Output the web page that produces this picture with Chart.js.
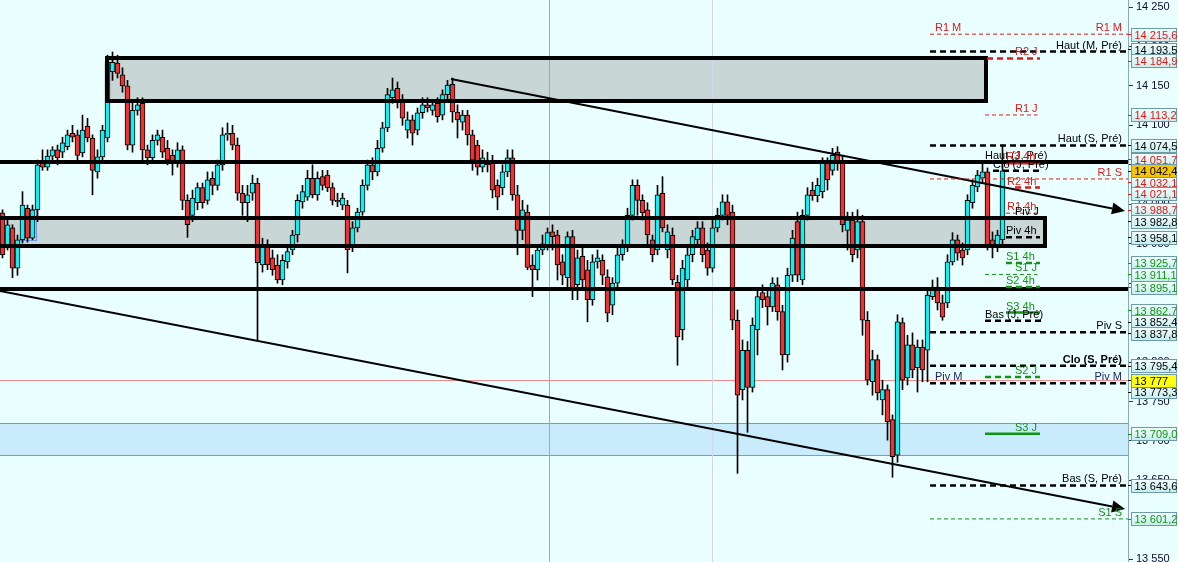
<!DOCTYPE html>
<html>
<head>
<meta charset="utf-8">
<script src="https://cdn.jsdelivr.net/npm/chart.js@4.4.1/dist/chart.umd.min.js"></script>
<style>
html,body{margin:0;padding:0;background:#eaffff;overflow:hidden}
canvas{display:block}
</style>
</head>
<body>
<canvas id="myChart" width="1178" height="562"></canvas>
<script>
// candles (oldest first)
const opens = [
13989,13948,13970,13919,13955,13995,13957,13993,14052,14047,
14061,14069,14066,14073,14090,14088,14065,14099,14084,14041,
14060,14084,14168,14179,14164,14150,14075,14119,14128,14069,
14059,14081,14085,14071,14062,14052,14069,14005,13986,14002,
14021,14005,14033,14024,14050,14088,14090,14075,14014,14002,
14014,14027,13923,13948,13932,13923,13904,13927,13942,13961,
14003,14009,14033,14012,14035,14037,14021,14005,13999,13999,
13945,13970,13990,14024,14050,14041,14071,14097,14135,14147,
14132,14094,14107,14094,14116,14126,14119,14128,14113,14139,
14152,14117,14104,14113,14088,14075,14047,14056,14054,14024,
14021,14041,14059,14012,13967,13990,13923,13917,13942,13948,
13965,13961,13927,13907,13959,13898,13934,13917,13879,13927,
13929,13908,13872,13900,13936,13946,13986,14024,14005,13993,
13955,13942,14014,13942,13961,13901,13841,13904,13936,13955,
13970,13942,13919,13970,13986,14003,13990,13853,13765,13815,
13768,13841,13888,13883,13870,13898,13864,13809,13910,13978,
13904,13986,14018,14011,14016,14052,14043,14066,14052,13967,
13980,13942,13978,13853,13775,13803,13752,13765,13727,13682,
13850,13780,13822,13793,13819,13815,13883,13895,13875,13875,
13927,13955,13942,13942,14002,14022,14033,14041,13955,13945,
13955];
const highs = [
13993,13980,13974,13961,14016,13999,13999,14056,14069,14069,
14073,14075,14085,14094,14100,14094,14113,14109,14088,14069,
14100,14189,14193,14189,14173,14157,14128,14135,14135,14075,
14088,14094,14094,14081,14069,14078,14074,14012,14018,14027,
14027,14041,14041,14056,14097,14103,14100,14084,14024,14024,
14037,14033,13957,13955,13942,13936,13936,13945,13967,14012,
14024,14043,14050,14041,14043,14043,14027,14014,14014,14005,
13978,13995,14031,14056,14059,14081,14104,14147,14160,14155,
14139,14117,14113,14122,14135,14135,14132,14135,14145,14157,
14160,14126,14119,14119,14094,14081,14069,14066,14062,14031,
14050,14069,14069,14024,14005,13999,13936,13948,13961,13970,
13974,13967,13936,13965,13967,13942,13945,13929,13936,13942,
13936,13917,13907,13945,13955,13995,14031,14031,14012,14002,
13961,14024,14035,13974,13970,13910,13929,13948,13967,13978,
13978,13951,13980,13995,14012,14012,13999,13866,13828,13826,
13856,13891,13898,13891,13907,13907,13872,13919,13967,13990,
13993,14021,14028,14033,14059,14059,14071,14073,14062,13990,
13990,13993,13986,13864,13815,13809,13777,13771,13733,13860,
13856,13834,13837,13828,13828,13894,13904,13907,13885,13936,
13964,13961,13951,14012,14031,14043,14054,14046,13965,13967,
14075];
const lows = [
13932,13942,13907,13910,13951,13952,13955,13978,14043,14043,
14056,14050,14059,14069,14079,14052,14060,14079,14012,14033,
14056,14079,14157,14160,14142,14069,14066,14113,14056,14050,
14052,14075,14059,14050,14037,14047,13993,13958,13978,13993,
13995,14000,14012,14018,14043,14081,14069,14005,13986,13978,
14005,13828,13914,13917,13910,13900,13898,13919,13936,13952,
13995,14005,14008,14005,14018,14016,13999,13997,13993,13913,
13940,13965,13986,14018,14031,14036,14066,14092,14128,14122,
14100,14084,14075,14088,14109,14117,14113,14104,14107,14132,
14104,14084,14094,14075,14043,14037,14041,14041,14008,13993,
14012,14035,14005,13936,13955,13917,13883,13904,13936,13942,
13942,13904,13898,13891,13879,13879,13891,13851,13872,13919,
13898,13851,13860,13891,13929,13940,13980,13986,13980,13948,
13927,13936,13965,13932,13898,13796,13828,13891,13927,13948,
13927,13910,13914,13965,13980,13974,13841,13659,13752,13711,
13762,13809,13869,13847,13864,13853,13790,13800,13902,13902,
13898,13980,14005,14003,14008,14018,14037,14043,13965,13942,
13927,13932,13834,13771,13758,13752,13733,13701,13654,13673,
13765,13771,13780,13762,13775,13775,13879,13866,13853,13869,
13923,13929,13923,13936,13995,14016,14028,13942,13932,13940,
13948];
const closes = [
13936,13974,13919,13955,13999,13957,13993,14050,14047,14061,
14069,14059,14078,14088,14085,14062,14094,14084,14043,14060,
14094,14180,14180,14166,14150,14075,14119,14126,14069,14059,
14081,14088,14066,14056,14052,14069,14005,13974,14008,14021,
14002,14031,14024,14050,14088,14090,14075,14014,14002,14012,
14027,13926,13948,13923,13917,13904,13929,13940,13961,14005,
14016,14033,14012,14033,14024,14021,14005,14003,14008,13942,
13970,13990,14024,14050,14041,14071,14097,14139,14145,14132,
14109,14107,14090,14116,14126,14122,14126,14111,14139,14151,
14117,14107,14113,14088,14056,14047,14059,14050,14018,14009,
14041,14059,14012,13967,13993,13920,13917,13942,13950,13964,
13959,13923,13910,13959,13891,13932,13904,13879,13927,13932,
13910,13862,13900,13936,13946,13986,14024,14005,13989,13961,
13936,14012,13970,13965,13904,13832,13919,13936,13959,13970,
13936,13919,13970,13986,14003,13986,13853,13758,13815,13768,
13847,13883,13879,13870,13900,13864,13809,13910,13957,13910,
13986,14012,14011,14024,14052,14031,14062,14054,13974,13980,
13936,13978,13853,13777,13803,13761,13765,13724,13680,13851,
13777,13822,13790,13819,13790,13885,13895,13875,13857,13927,
13955,13938,13932,14005,14024,14037,14041,13948,13945,13961,
14042.4];

// price axis
const yTicks = [13550,13600,13650,13700,13750,13800,13850,13900,13950,14000,14050,14100,14150,14200,14250];

// pivot levels
const pivotNames = ['R1 M','Haut (M, Pré)','R2 J','R1 J','Haut (S, Pré)','Haut (J, Pré)','R3 4h','Clo (J, Pré)',
  'R1 S','R2 4h','R1 4h','Piv J','Piv 4h','S1 4h','S1 J','S2 4h','S3 4h','Bas (J, Pré)','Piv S','Clo (S, Pré)',
  'S2 J','Piv M','S3 J','Bas (S, Pré)','S1 S'];
const pivotValues = [14215.6,14193.5,14184.9,14113.2,14074.5,14053.6,14051.7,14042.4,
  14032.1,14021.1,13988.7,13982.8,13958.1,13925.7,13911.1,13895.1,13862.7,13852.4,13837.8,13795.4,
  13781.0,13773.3,13709.0,13643.6,13601.2];

// boxed values on the price axis
const axisMarks = [14215.6,14193.5,14184.9,14113.2,14074.5,14051.7,14032.1,14021.1,13988.7,13982.8,13958.1,
  13925.7,13911.1,13895.1,13862.7,13852.4,13837.8,13795.4,13773.3,13709.0,13643.6,13601.2];
const axisMarkKind = ['r','k','r','r','k','r','r','r','r','k','k','g','g','g','g','k','k','k','k','g','k','g'];

// drawn objects
const priceLine = 13777;
const supportLines = [14053.6, 13892.6];
const zoneTop = [14185.4, 13982.6];
const zoneBottom = [14130.9, 13947.1];
const bandTop = 13722.7, bandBottom = 13682.1;
const trendFrom = [[89.7, 14158.8], [-0.5, 13890.0]];
const trendTo = [[224.5, 13991.5], [224.5, 13613.8]];

const RED = '#e01818', GREEN = '#139413', BLACK = '#000000';
const FONT = 'Liberation Sans, Arial, sans-serif';
const FULL = [185.5, 225.2], DAY = [196.5, 207.5], H4 = [200.7, 207.5];
const pivotStyle = {
  'R1 M':          {c: RED,   w: 1,   d: [4,3], x: FULL, at: [[186.5,'left'],[223.9,'right']]},
  'Haut (M, Pré)': {c: BLACK, w: 2.5, d: [6,4], x: FULL, at: [[223.9,'right']]},
  'R2 J':          {c: RED,   w: 2.5, d: [6,4], x: [196.9,207.5], at: [[202.5,'left']]},
  'R1 J':          {c: RED,   w: 1,   d: [4,3], x: [196.5,207], at: [[202.5,'left']]},
  'Haut (S, Pré)': {c: BLACK, w: 2.5, d: [6,4], x: FULL, at: [[223.9,'right']]},
  'Haut (J, Pré)': {c: BLACK, w: 0,   d: [],    x: DAY, at: [[196.5,'left']]},
  'R3 4h':         {c: RED,   w: 2,   d: [],    x: H4, at: [[200.7,'left']]},
  'Clo (J, Pré)':  {c: BLACK, w: 2.5, d: [6,4], x: [198.1,207.5], at: [[198.1,'left']]},
  'R1 S':          {c: RED,   w: 1,   d: [4,3], x: FULL, at: [[223.9,'right']]},
  'R2 4h':         {c: RED,   w: 2.5, d: [6,4], x: [202.5,207.5], at: [[200.9,'left']]},
  'R1 4h':         {c: RED,   w: 1,   d: [4,3], x: H4, at: [[200.9,'left']]},
  'Piv J':         {c: BLACK, w: 1,   d: [4,3], x: DAY, at: [[202.5,'left']]},
  'Piv 4h':        {c: BLACK, w: 2.5, d: [6,4], x: H4, at: [[200.7,'left']]},
  'S1 4h':         {c: GREEN, w: 2.5, d: [6,4], x: H4, at: [[200.7,'left']]},
  'S1 J':          {c: GREEN, w: 1,   d: [4,3], x: [196.5,207], at: [[202.5,'left']]},
  'S2 4h':         {c: GREEN, w: 2.5, d: [6,4], x: H4, at: [[200.7,'left']]},
  'S3 4h':         {c: GREEN, w: 2.5, d: [],    x: H4, at: [[200.7,'left']]},
  'Bas (J, Pré)':  {c: BLACK, w: 2.5, d: [6,4], x: [196.5,208.5], at: [[196.5,'left']]},
  'Piv S':         {c: BLACK, w: 2.5, d: [6,4], x: FULL, at: [[223.9,'right']]},
  'Clo (S, Pré)':  {c: BLACK, w: 2.5, d: [6,4], x: FULL, at: [[223.9,'right']], bold: true},
  'S2 J':          {c: GREEN, w: 2.5, d: [6,4], x: DAY, at: [[202.5,'left']]},
  'Piv M':         {c: BLACK, w: 2.5, d: [6,4], x: FULL, at: [[186.5,'left'],[223.9,'right']], tc: '#1c1c66'},
  'S3 J':          {c: GREEN, w: 2.5, d: [],    x: DAY, at: [[202.5,'left']]},
  'Bas (S, Pré)':  {c: BLACK, w: 2.5, d: [6,4], x: FULL, at: [[223.9,'right']]},
  'S1 S':          {c: GREEN, w: 1,   d: [4,3], x: FULL, at: [[223.9,'right']]}
};
const kindColor = {r: RED, k: BLACK, g: GREEN};

function spaced(s) {
  return s.replace(/\B(?=(\d{3})+(?!\d))/g, ' ');
}
function fmtInt(v) { return spaced(String(Math.round(v))); }
function fmtDec(v) {
  const p = v.toFixed(1).split('.');
  return spaced(p[0]) + ',' + p[1];
}

const wicks = [], bodies = [], bodyColors = [];
for (let i = 0; i < opens.length; i++) {
  wicks.push({x: i, y: [lows[i], highs[i]]});
  bodies.push({x: i, y: [opens[i], closes[i]]});
  bodyColors.push(closes[i] >= opens[i] ? '#14eef0' : '#ea3434');
}

function line(ctx, x0, y0, x1, y1, color, w, dash) {
  ctx.save();
  ctx.strokeStyle = color;
  ctx.lineWidth = w;
  ctx.setLineDash(dash || []);
  ctx.beginPath();
  ctx.moveTo(x0, y0);
  ctx.lineTo(x1, y1);
  ctx.stroke();
  ctx.restore();
}

const decor = {
  id: 'decor',
  beforeDraw(chart) {
    const ctx = chart.ctx;
    ctx.save();
    ctx.fillStyle = '#eaffff';
    ctx.fillRect(0, 0, chart.width, chart.height);
    ctx.restore();
  },
  beforeDatasetsDraw(chart) {
    const ctx = chart.ctx, a = chart.chartArea;
    const X = v => chart.scales.x.getPixelForValue(v);
    const Y = v => chart.scales.y.getPixelForValue(v);
    ctx.save();
    // blue band
    const bt = Y(bandTop), bb = Y(bandBottom);
    ctx.fillStyle = '#c9ecfc';
    ctx.fillRect(a.left, bt, a.right - a.left, bb - bt);
    line(ctx, a.left, Math.round(bt) + 0.5, a.right, Math.round(bt) + 0.5, '#6f9be6', 1);
    line(ctx, a.left, Math.round(bb) + 0.5, a.right, Math.round(bb) + 0.5, '#6f9be6', 1);
    // grey zones
    ctx.fillStyle = '#c9d6d6';
    const zx = [[20.9, 196.7], [-2, 208.5]];
    for (let k = 0; k < 2; k++) {
      const t = Y(zoneTop[k]), b = Y(zoneBottom[k]);
      ctx.fillRect(X(zx[k][0]), t, X(zx[k][1]) - X(zx[k][0]), b - t);
    }
    // thin reference lines
    const pl = Math.round(Y(priceLine)) + 0.5;
    line(ctx, a.left, pl, a.right, pl, '#f08a8a', 1);
    const vx = Math.round(X(109.3)) + 0.5;
    line(ctx, vx, a.top, vx, a.bottom, '#f08a8a', 1);
    const fx = Math.round(X(141.9)) + 0.5;
    line(ctx, fx, a.top, fx, a.bottom, '#d3d6f2', 1);
    // selection box
    ctx.fillStyle = 'rgba(120,160,255,0.12)';
    const sx0 = Math.round(X(3.5)) + 0.5, sx1 = Math.round(X(6.7)) + 0.5;
    const sy0 = Math.round(Y(13994)) + 0.5, sy1 = Math.round(Y(13954.7)) + 0.5;
    ctx.fillRect(sx0, sy0, sx1 - sx0, sy1 - sy0);
    ctx.strokeStyle = '#6c9cf8';
    ctx.lineWidth = 1;
    ctx.strokeRect(sx0, sy0, sx1 - sx0, sy1 - sy0);
    ctx.restore();
  },
  afterDatasetsDraw(chart) {
    const ctx = chart.ctx, a = chart.chartArea;
    const X = v => chart.scales.x.getPixelForValue(v);
    const Y = v => chart.scales.y.getPixelForValue(v);
    ctx.save();
    ctx.beginPath();
    ctx.rect(a.left, a.top, a.right - a.left, a.bottom - a.top);
    ctx.clip();
    // heavy horizontal lines
    supportLines.forEach(v => line(ctx, a.left, Y(v), a.right, Y(v), '#000', 4));
    // zone borders
    const zx = [[20.9, 196.7], [-2, 208.5]];
    ctx.strokeStyle = '#000';
    ctx.lineWidth = 4;
    for (let k = 0; k < 2; k++) {
      const t = Y(zoneTop[k]), b = Y(zoneBottom[k]);
      ctx.strokeRect(X(zx[k][0]), t, X(zx[k][1]) - X(zx[k][0]), b - t);
    }
    // trend lines with arrow heads
    for (let k = 0; k < trendFrom.length; k++) {
      const x0 = X(trendFrom[k][0]), y0 = Y(trendFrom[k][1]);
      const x1 = X(trendTo[k][0]), y1 = Y(trendTo[k][1]);
      const ang = Math.atan2(y1 - y0, x1 - x0);
      const L = 13, W = 6;
      const bx = x1 - L * Math.cos(ang), by = y1 - L * Math.sin(ang);
      line(ctx, x0, y0, bx, by, '#000', 2);
      ctx.fillStyle = '#000';
      ctx.beginPath();
      ctx.moveTo(x1, y1);
      ctx.lineTo(bx + W * Math.sin(ang), by - W * Math.cos(ang));
      ctx.lineTo(bx - W * Math.sin(ang), by + W * Math.cos(ang));
      ctx.closePath();
      ctx.fill();
    }
    // pivot levels
    pivotNames.forEach((name, k) => {
      const s = pivotStyle[name];
      const y = Y(pivotValues[k]);
      if (s.w > 0) line(ctx, X(s.x[0]), y, X(s.x[1]), y, s.c, s.w, s.d);
      ctx.font = (s.bold ? 'bold ' : '') + '11px ' + FONT;
      ctx.fillStyle = s.tc || s.c;
      ctx.textBaseline = 'alphabetic';
      s.at.forEach(p => {
        ctx.textAlign = p[1];
        ctx.fillText(name, X(p[0]), y - 3);
      });
    });
    ctx.restore();
  },
  afterDraw(chart) {
    const ctx = chart.ctx, a = chart.chartArea;
    const Y = v => chart.scales.y.getPixelForValue(v);
    const items = axisMarks.map((v, k) => ({t: fmtDec(v), c: kindColor[axisMarkKind[k]], f: null, y: Y(v), fixed: false, ord: k}));
    items.push({t: fmtInt(priceLine), c: '#000', f: '#ffff10', y: Y(priceLine), fixed: true, ord: 100});
    const last = closes[closes.length - 1];
    items.push({t: fmtDec(last), c: '#000', f: '#f7c400', y: Y(last), fixed: true, ord: 101});
    const sorted = items.slice().sort((p, q) => p.y - q.y);
    const G = 11.5;
    for (let it = 0; it < 40; it++) {
      for (let k = 0; k < sorted.length - 1; k++) {
        const p = sorted[k], q = sorted[k + 1];
        const gap = q.y - p.y;
        if (gap < G) {
          const o = G - gap;
          if (p.fixed && q.fixed) continue;
          if (p.fixed) q.y += o;
          else if (q.fixed) p.y -= o;
          else { p.y -= o / 2; q.y += o / 2; }
        }
      }
    }
    items.sort((p, q) => p.ord - q.ord);
    const bx = a.right + 3.5, bw = 45, bh = 13;
    ctx.save();
    ctx.font = '11px ' + FONT;
    ctx.textBaseline = 'middle';
    ctx.textAlign = 'left';
    items.forEach(it => {
      const top = Math.round(it.y - bh / 2) + 0.5;
      line(ctx, a.right, Math.round(it.y) + 0.5, a.right + 4, Math.round(it.y) + 0.5, it.c, 1);
      if (it.f) {
        ctx.fillStyle = it.f;
      } else {
        const g = ctx.createLinearGradient(0, top, 0, top + bh);
        g.addColorStop(0, '#f2ffff');
        g.addColorStop(1, '#c6ecec');
        ctx.fillStyle = g;
      }
      ctx.fillRect(bx, top, bw, bh);
      ctx.strokeStyle = '#6f9aa8';
      ctx.lineWidth = 1;
      ctx.strokeRect(bx, top, bw, bh);
      ctx.fillStyle = it.c;
      ctx.fillText(it.t, bx + 3, top + bh / 2 + 0.5);
    });
    ctx.restore();
  }
};

const ctx = document.getElementById('myChart').getContext('2d');
const chart = new Chart(ctx, {
  type: 'bar',
  data: {
    datasets: [
      {label: 'bodies', data: bodies, backgroundColor: bodyColors, borderColor: '#000', borderWidth: 1,
       borderSkipped: false, barThickness: 5, grouped: false, order: 1},
      {label: 'wicks', data: wicks, backgroundColor: '#000', borderWidth: 0, barThickness: 1, grouped: false, order: 2}
    ]
  },
  options: {
    responsive: false,
    animation: false,
    layout: {padding: 0},
    plugins: {legend: {display: false}, tooltip: {enabled: false}},
    scales: {
      x: {type: 'linear', min: -0.5, max: 225.1, offset: false, display: false},
      y: {
        position: 'right',
        min: 13546.6,
        max: 14258.9,
        afterFit(s) { s.width = 50; s.paddingTop = 0; s.paddingBottom = 0; },
        afterBuildTicks(s) { s.ticks = yTicks.map(v => ({value: v})); },
        ticks: {color: '#0a0a3a', font: {family: FONT, size: 11}, padding: 3, callback: v => fmtInt(v)},
        grid: {drawOnChartArea: false, tickLength: 5, color: '#2a3a4a'},
        border: {color: '#88aabb'}
      }
    }
  },
  plugins: [decor]
});
</script>
</body>
</html>
